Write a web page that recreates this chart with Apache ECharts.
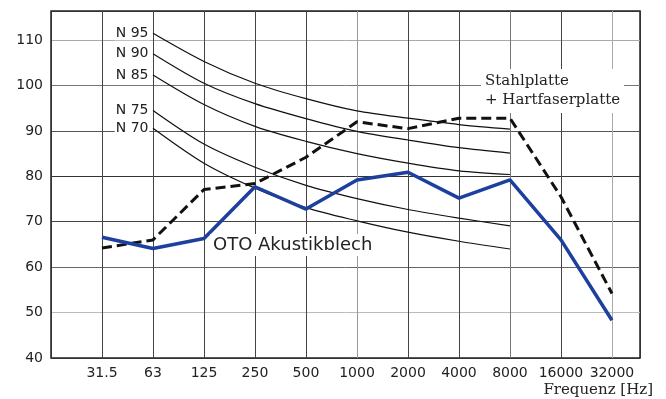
<!DOCTYPE html>
<html>
<head>
<meta charset="utf-8">
<script src="https://cdn.jsdelivr.net/npm/echarts@6/dist/echarts.min.js"></script>
<style>html,body{margin:0;padding:0;background:#fff;}#c{width:666px;height:399px;}</style>
</head>
<body>
<div id="c"></div>
<script>
var freqLabels = ['31.5','63','125','250','500','1000','2000','4000','8000','16000','32000'];
var yTicks = [40,50,60,70,80,90,100,110];
var oto = [66.6, 64.1, 66.3, 77.7, 72.8, 79.2, 80.9, 75.2, 79.2, 66.0, 48.3];
var stahl = [64.2, 66.0, 77.1, 78.4, 84.2, 92.0, 90.5, 92.8, 92.8, 75.5, 54.2];
// N curves from 63 Hz to 8000 Hz (index 1..8)
var nIdx = [1,2,3,4,5,6,7,8];
var n95 = [111.5, 105.3, 100.5, 97.1, 94.4, 92.8, 91.4, 90.4];
var n90 = [107.0, 100.5, 96.0, 92.7, 89.9, 88.0, 86.3, 85.1];
var n85 = [102.3, 95.8, 91.0, 87.7, 85.0, 82.9, 81.2, 80.4];
var n75 = [94.5, 87.1, 82.0, 78.0, 75.1, 72.7, 70.8, 69.1];
var n70 = [90.6, 82.9, 77.4, 73.1, 70.2, 67.7, 65.7, 64.0];
var nNames = ['N 95','N 90','N 85','N 75','N 70'];
var nSets = [n95, n90, n85, n75, n70];

var chart = echarts.init(document.getElementById('c'), null, {renderer:'canvas'});
function pairs(xs, ys){ return ys.map(function(v,i){ return [xs[i], v]; }); }
var allIdx = freqLabels.map(function(_,i){ return i; });

var series = [];
nSets.forEach(function(arr, k){
  var d = pairs(nIdx, arr);
  series.push({type:'line', data:d, symbol:'none', smooth:0.3,
    lineStyle:{color:'#111', width:1.2}, z:2, silent:true,
    markPoint:{symbol:'circle', symbolSize:1, silent:true,
      itemStyle:{color:'rgba(0,0,0,0)'},
      label:{show:true, position:'left', distance:3, formatter:nNames[k],
        fontFamily:'DejaVu Sans', fontSize:14, color:'#222',
        backgroundColor:'#fff', padding:[0,1,0,1]},
      data:[{coord:d[0]}]}
  });
});
series.push({type:'line', name:'Stahlplatte', data:pairs(allIdx, stahl), symbol:'none',
  lineStyle:{color:'#111', width:3, type:[10,5]}, z:3});
series.push({type:'line', name:'OTO', data:pairs(allIdx, oto), symbol:'none',
  lineStyle:{color:'#1d3f9e', width:3.5}, z:4});

chart.setOption({
  animation:false,
  backgroundColor:'#fff',
  grid:{left:51, top:11, right:26, bottom:41, show:true, borderColor:'#222', borderWidth:1.5},
  xAxis:{type:'value', min:-1, max:10.55, interval:1,
    axisLine:{show:false}, axisTick:{show:false},
    axisLabel:{formatter:function(v){ var i=Math.round(v); return (Math.abs(v-i)<1e-6 && i>=0 && i<freqLabels.length)?freqLabels[i]:''; },
      fontFamily:'DejaVu Sans', fontSize:14, color:'#222', margin:8},
    splitLine:{show:true, lineStyle:{width:1, color:['#333','#444','#444','#444','#444','#444','#999','#444','#444','#777','#444','#aaa','#333']}}
  },
  yAxis:{type:'value', min:40, max:116.4, interval:10,
    axisLine:{show:false}, axisTick:{show:false},
    axisLabel:{formatter:function(v){ return yTicks.indexOf(Math.round(v))>=0 && Math.abs(v-Math.round(v))<1e-6 ? String(v) : ''; },
      fontFamily:'DejaVu Sans', fontSize:14, color:'#222', margin:8},
    splitLine:{show:true, lineStyle:{width:1, color:['#333','#bbb','#666','#444','#333','#555','#777','#aaa','#333']}}
  },
  graphic:[
    {type:'text', left:210, top:234, z:5, style:{text:'OTO Akustikblech', font:'18px "DejaVu Sans"', fill:'#222', backgroundColor:'#fff', padding:[2,3,2,3]}},
    {type:'text', left:481, top:69, z:5, style:{text:'Stahlplatte\n+ Hartfaserplatte', font:'15px "DejaVu Serif"', fill:'#222', lineHeight:19, backgroundColor:'#fff', padding:[3,4,3,4]}},
    {type:'text', right:13, top:383, style:{text:'Frequenz [Hz]', font:'15px "DejaVu Serif"', fill:'#222'}}
  ],
  series:series
});
</script>
</body>
</html>
